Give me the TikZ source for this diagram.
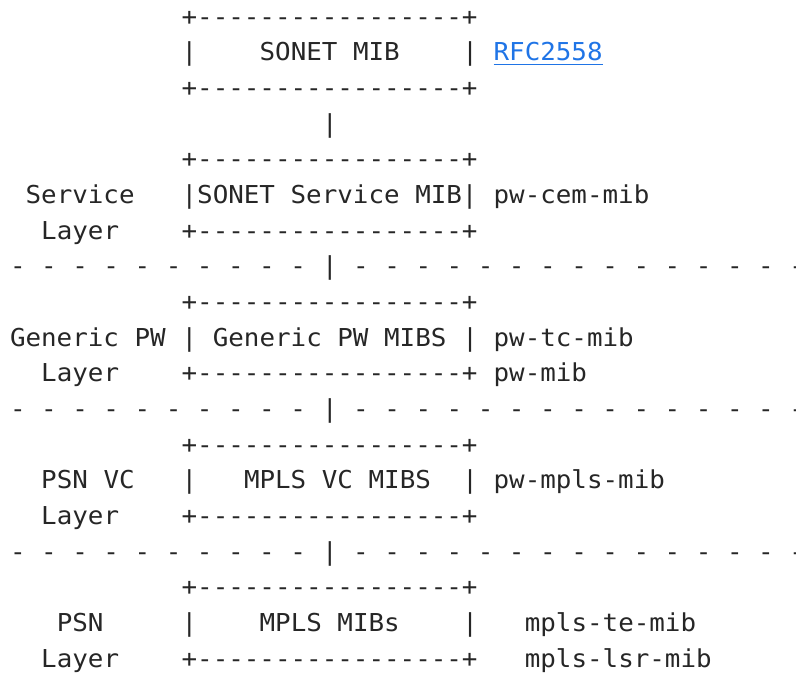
\documentclass[tikz,border=0pt]{standalone}
\usepackage{fontspec}
\setmonofont[FakeStretch=1.049]{DejaVu Sans Mono}
\definecolor{ink}{HTML}{262626}
\definecolor{linkblue}{HTML}{1F74E6}
\begin{document}
\begin{tikzpicture}[x=0.75pt,y=-0.75pt,
  t/.style={anchor=base west,inner sep=0pt,outer sep=0pt,text=ink,
    font=\ttfamily\fontsize{18.5pt}{20pt}\selectfont},
  lnk/.style={t,text=linkblue}]
\useasboundingbox (0,0) rectangle (796,673);
\begin{scope}[shift={(10,25.3)},x=11.7pt,y=-26.75pt]
% SONET MIB box
\node[t] (b0t) at (11,0) {+-----------------+};
\node[t] (b0l) at (11,1) {|};
\node[t] (b0x) at (16,1) {SONET MIB};
\node[t] (b0r) at (29,1) {|};
\node[lnk] (rfc) at (31,1) {RFC2558};
\node[t] (b0b) at (11,2) {+-----------------+};
\node[t] (v0) at (20,3) {|};
% Service layer
\node[t] (b1t) at (11,4) {+-----------------+};
\node[t] (s1) at (1,5) {Service};
\node[t] (b1x) at (11,5) {|SONET Service MIB|};
\node[t] (m1) at (31,5) {pw-cem-mib};
\node[t] (s1b) at (2,6) {Layer};
\node[t] (b1b) at (11,6) {+-----------------+};
\node[t] (d1l) at (0,7) {- - - - - - - - - -};
\node[t] (d1c) at (20,7) {|};
\node[t] (d1r) at (22,7) {- - - - - - - - - - - - - - -};
% Generic PW layer
\node[t] (b2t) at (11,8) {+-----------------+};
\node[t] (s2) at (0,9) {Generic PW};
\node[t] (b2l) at (11,9) {|};
\node[t] (b2x) at (13,9) {Generic PW MIBS};
\node[t] (b2r) at (29,9) {|};
\node[t] (m2a) at (31,9) {pw-tc-mib};
\node[t] (s2b) at (2,10) {Layer};
\node[t] (b2b) at (11,10) {+-----------------+};
\node[t] (m2b) at (31,10) {pw-mib};
\node[t] (d2l) at (0,11) {- - - - - - - - - -};
\node[t] (d2c) at (20,11) {|};
\node[t] (d2r) at (22,11) {- - - - - - - - - - - - - - -};
% PSN VC layer
\node[t] (b3t) at (11,12) {+-----------------+};
\node[t] (s3) at (2,13) {PSN VC};
\node[t] (b3l) at (11,13) {|};
\node[t] (b3x) at (15,13) {MPLS VC MIBS};
\node[t] (b3r) at (29,13) {|};
\node[t] (m3) at (31,13) {pw-mpls-mib};
\node[t] (s3b) at (2,14) {Layer};
\node[t] (b3b) at (11,14) {+-----------------+};
\node[t] (d3l) at (0,15) {- - - - - - - - - -};
\node[t] (d3c) at (20,15) {|};
\node[t] (d3r) at (22,15) {- - - - - - - - - - - - - - -};
% PSN layer
\node[t] (b4t) at (11,16) {+-----------------+};
\node[t] (s4) at (3,17) {PSN};
\node[t] (b4l) at (11,17) {|};
\node[t] (b4x) at (16,17) {MPLS MIBs};
\node[t] (b4r) at (29,17) {|};
\node[t] (m4a) at (33,17) {mpls-te-mib};
\node[t] (s4b) at (2,18) {Layer};
\node[t] (b4b) at (11,18) {+-----------------+};
\node[t] (m4b) at (33,18) {mpls-lsr-mib};
\end{scope}
\draw[linkblue,line width=0.9pt] ([yshift=-2.4pt]rfc.base west) -- ([yshift=-2.4pt]rfc.base east);
\end{tikzpicture}
\end{document}
